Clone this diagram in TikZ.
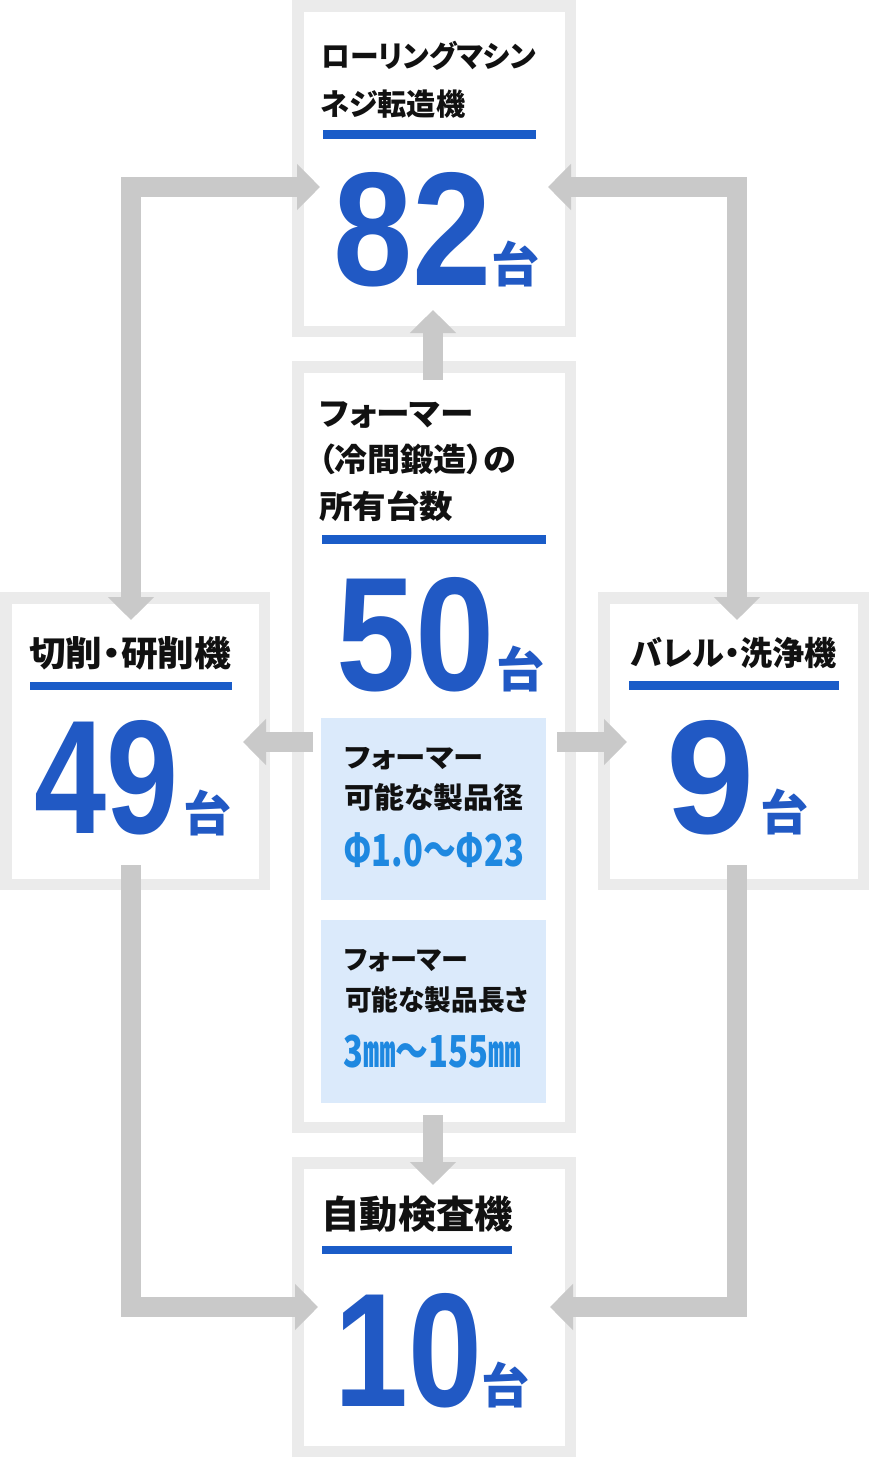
\documentclass[tikz,border=0pt]{standalone}
\usepackage{fontspec}
\usepackage{graphicx}
\usetikzlibrary{arrows.meta,calc}
\newfontfamily\jp[RawFeature=+palt]{Noto Sans CJK JP}
\newfontfamily\numfont{Liberation Sans}
\definecolor{boxgray}{HTML}{EBEBEB}
\definecolor{arrgray}{HTML}{C9C9C9}
\definecolor{numblue}{HTML}{2159C4}
\definecolor{lineblue}{HTML}{1A5CC8}
\definecolor{txtblue}{HTML}{1E88E0}
\definecolor{paleblue}{HTML}{DBEAFB}
\definecolor{ink}{HTML}{111111}
\newcommand{\bignum}[2]{{\numfont\bfseries\fontsize{162}{162}\selectfont\scalebox{#1}[1]{#2}}}
\newcommand{\unitdai}{{\jp\bfseries\fontsize{48}{48}\selectfont 台}}
\newcommand{\ttl}[1]{\jp\bfseries\fontsize{#1}{#1}\selectfont}
\newcommand{\fitw}[3]{\resizebox{#1pt}{\height}{\ttl{#2}#3}}
\tikzset{
  frame/.style={draw=boxgray, line width=11.5pt, fill=white, inner sep=0pt},
  infobox/.style={fill=paleblue, inner sep=0pt},
  arr/.style={draw=arrgray, line width=20pt, line join=miter,
    -{Triangle[length=23pt 0 0, width=45pt 0 0]}},
  darr/.style={draw=arrgray, line width=20pt, line join=miter,
    {Triangle[length=23pt 0 0, width=45pt 0 0]}-{Triangle[length=23pt 0 0, width=45pt 0 0]}},
  txt/.style={inner sep=0pt, anchor=base west, text=ink},
  num/.style={inner sep=0pt, anchor=base west, text=numblue},
  sub/.style={inner sep=0pt, anchor=base west, text=txtblue},
}
\begin{document}
\begin{tikzpicture}[x=1pt,y=-1pt]
\useasboundingbox (0,0) rectangle (869,1457);
% boxes
\node[frame, minimum width=272.5pt, minimum height=325.5pt] (tb) at (434,168.5) {};
\node[frame, minimum width=272.5pt, minimum height=760.5pt] (mb) at (434,747) {};
\node[frame, minimum width=258.5pt, minimum height=286.5pt] (lb) at (135,741) {};
\node[frame, minimum width=259.5pt, minimum height=286.5pt] (rb) at (733.5,741) {};
\node[frame, minimum width=272.5pt, minimum height=288.5pt] (bb) at (434,1307) {};
\node[infobox, minimum width=225pt, minimum height=182pt] (ib1) at (433.5,809) {};
\node[infobox, minimum width=225pt, minimum height=183pt] (ib2) at (433.5,1011.5) {};
% connectors
\draw[darr] ($(lb.center)+(-4,-121)$) |- ($(tb.center)+(-114,18.5)$);
\draw[darr] ($(rb.center)+(3.5,-121)$) |- ($(tb.center)+(114,18.5)$);
\draw[arr] ($(lb.center)+(-4,124)$) |- ($(bb.center)+(-116,0)$);
\draw[arr] ($(rb.center)+(3.5,124)$) |- ($(bb.center)+(116,0)$);
\draw[arr] ($(mb.center)+(-1,-367)$) -- ($(tb.center)+(-1,141.5)$);
\draw[arr] ($(mb.center)+(-1,368)$) -- ($(bb.center)+(-1,-122)$);
\draw[arr] ($(mb.center)+(-121,-5)$) -- ($(lb.center)+(108,1)$);
\draw[arr] ($(mb.center)+(123,-5)$) -- ($(rb.center)+(-106.5,1)$);
% underlines
\fill[lineblue] (323,130) rectangle (536,139);
\fill[lineblue] (322,535) rectangle (546,544);
\fill[lineblue] (30,682) rectangle (232,690);
\fill[lineblue] (629,681) rectangle (839,690);
\fill[lineblue] (322,1246) rectangle (512,1254);
% top box
\node[txt] (t1) at (321,67) {\fitw{215}{30}{ローリングマシン}};
\node[txt] (t2) at (320,115) {\fitw{145}{30}{ネジ転造機}};
\node[num] (n1) at (333,285) {\bignum{0.88}{82}};
\node[num] (u1) at (491,282) {\unitdai};
% middle box
\node[txt] (m1) at (319,425) {\fitw{154}{32}{フォーマー}};
\node[txt] (m2) at (318,471.5) {\fitw{198}{32}{（冷間鍛造）の}};
\node[txt] (m3) at (319,518) {\fitw{134}{32}{所有台数}};
\node[num] (n2) at (336,690) {\bignum{0.88}{50}};
\node[num] (u2) at (496,687) {\unitdai};
% info boxes
\node[txt] (i1) at (344,767) {\fitw{139}{27}{フォーマー}};
\node[txt] (i2) at (344,808) {\fitw{179}{29}{可能な製品径}};
\node[sub] (i3) at (343,866) {\jp\bfseries\fontsize{44}{44}\selectfont\resizebox{181pt}{\height}{Φ1.0～Φ23}};
\node[txt] (i4) at (344,969) {\fitw{124}{27}{フォーマー}};
\node[txt] (i5) at (345,1010) {\fitw{183}{28}{可能な製品長さ}};
\node[sub] (i6) at (343,1067) {\jp\bfseries\fontsize{44}{44}\selectfont\resizebox{178pt}{\height}{3㎜～155㎜}};
% left box
\node[txt] (l1) at (29,666) {\fitw{202}{35}{切削・研削機}};
\node[num] (n3) at (34,833) {\bignum{0.80}{49}};
\node[num] (u3) at (183,831) {\unitdai};
% right box
\node[txt] (r1) at (631,665) {\fitw{205}{33}{バレル・洗浄機}};
\node[num] (n4) at (666,833) {\bignum{0.98}{9}};
\node[num] (u4) at (760,830) {\unitdai};
% bottom box
\node[txt] (b1) at (321,1228) {\fitw{192}{38}{自動検査機}};
\node[num] (n5) at (334,1406) {\bignum{0.82}{10}};
\node[num] (u5) at (481,1403) {\unitdai};
\end{tikzpicture}
\end{document}
